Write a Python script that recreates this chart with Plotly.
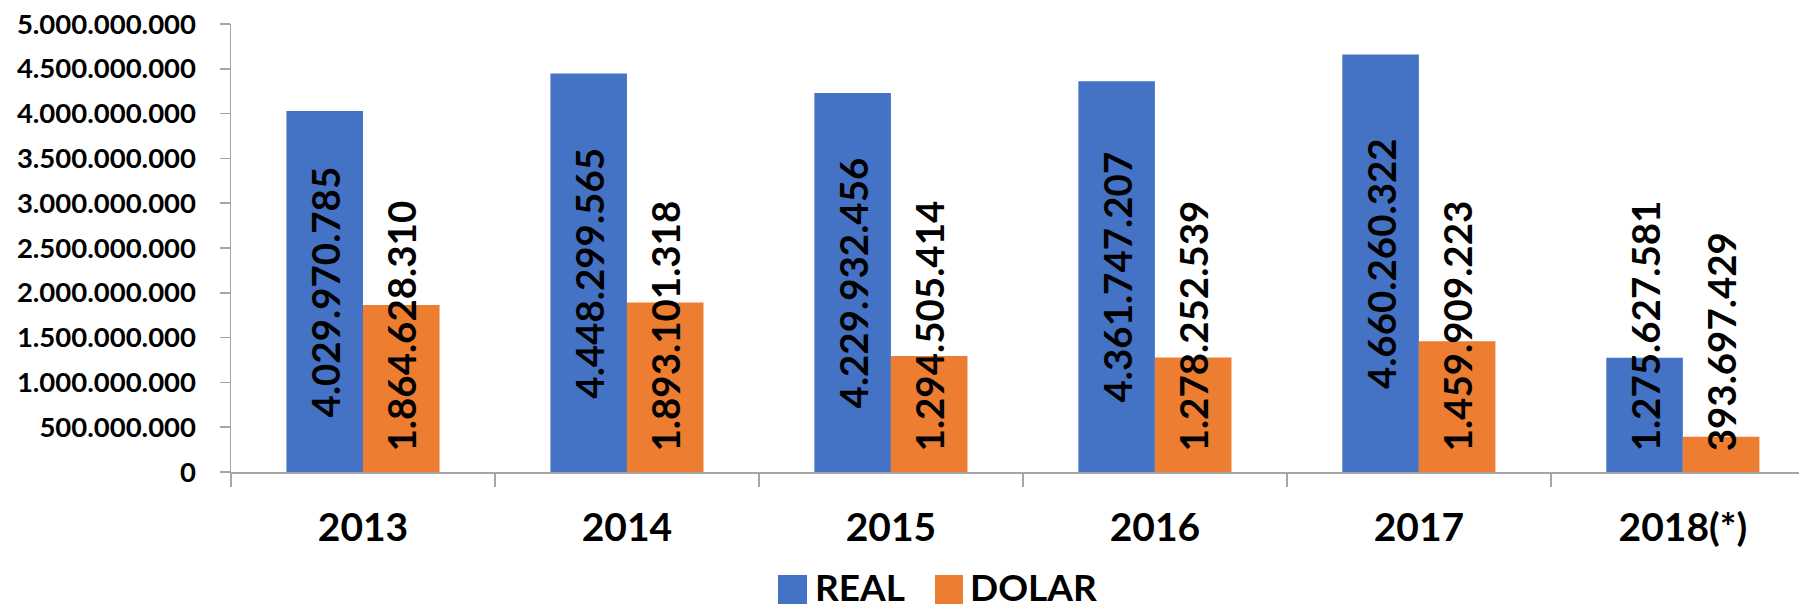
import plotly.graph_objects as go

categories = ["2013", "2014", "2015", "2016", "2017", "2018(*)"]
real_values = [4029970785, 4448299565, 4229932456, 4361747207, 4660260322, 1275627581]
dolar_values = [1864628310, 1893101318, 1294505414, 1278252539, 1459909223, 393697429]
y_tick_vals = [0, 500000000, 1000000000, 1500000000, 2000000000, 2500000000,
               3000000000, 3500000000, 4000000000, 4500000000, 5000000000]

BLUE = "#4472C4"
ORANGE = "#ED7D31"
AXIS = "#A6A6A6"
FONT = "Lato"

W, H = 1799, 612
M_L, M_R, M_T, M_B = 231, 0, 24, 140
Y_MAX = 5000000000
plot_h = H - M_T - M_B
plot_w = W - M_L - M_R
px_per_unit = plot_h / Y_MAX


def fmt(v):
    return f"{v:,}".replace(",", ".")


def px_x(px):
    return (px - M_L) / plot_w


def px_y(py):
    return (H - M_B - py) / plot_h


fig = go.Figure()
fig.add_trace(go.Bar(name="REAL", x=categories, y=real_values,
                     marker=dict(color=BLUE, line=dict(width=0))))
fig.add_trace(go.Bar(name="DOLAR", x=categories, y=dolar_values,
                     marker=dict(color=ORANGE, line=dict(width=0))))

annotations = []
label_font = dict(family=FONT, size=38.5, color="#000000", weight="bold")
bar_half = 38
min_bottom_px = 19
for series, shift in ((real_values, -bar_half), (dolar_values, bar_half)):
    for idx, v in enumerate(series):
        txt = fmt(v)
        est_len = 18.5 * sum(1 for c in txt if c.isdigit()) + 8.5 * txt.count(".")
        center_px = v * px_per_unit / 2
        if center_px - est_len / 2 < min_bottom_px:
            annotations.append(dict(x=idx, y=0, xref="x", yref="y", text=txt,
                                    textangle=-90, showarrow=False, xanchor="center",
                                    yanchor="bottom", xshift=shift, yshift=min_bottom_px,
                                    font=label_font))
        else:
            annotations.append(dict(x=idx, y=v / 2, xref="x", yref="y", text=txt,
                                    textangle=-90, showarrow=False, xanchor="center",
                                    yanchor="middle", xshift=shift,
                                    font=label_font))

# manual legend (large square swatches)
legend_font = dict(family=FONT, size=37, color="#000000", weight="bold")
shapes = [
    dict(type="rect", xref="paper", yref="paper",
         x0=px_x(778), x1=px_x(807), y0=px_y(604), y1=px_y(575),
         fillcolor=BLUE, line=dict(width=0)),
    dict(type="rect", xref="paper", yref="paper",
         x0=px_x(935), x1=px_x(963), y0=px_y(604), y1=px_y(575),
         fillcolor=ORANGE, line=dict(width=0)),
]
annotations.append(dict(text="REAL", xref="paper", yref="paper",
                        x=px_x(813), y=px_y(611), xanchor="left", yanchor="bottom",
                        showarrow=False, font=legend_font))
annotations.append(dict(text="DOLAR", xref="paper", yref="paper",
                        x=px_x(968), y=px_y(611), xanchor="left", yanchor="bottom",
                        showarrow=False, font=legend_font))

fig.update_layout(
    width=W, height=H,
    margin=dict(l=M_L, r=M_R, t=M_T, b=M_B, pad=0),
    paper_bgcolor="white", plot_bgcolor="white",
    barmode="group", bargap=0.42, bargroupgap=0,
    separators=",.",
    showlegend=False,
    annotations=annotations,
    shapes=shapes,
    font=dict(family=FONT, color="#000000"),
)
fig.update_xaxes(
    type="category", range=[-0.5, 5.44], automargin=False,
    showline=True, linecolor=AXIS, linewidth=1.5,
    ticks="outside", tickson="boundaries", ticklen=13, tickcolor=AXIS, tickwidth=1.5,
    tickfont=dict(family=FONT, size=39, color="#000000", weight="bold"),
    ticklabelstandoff=21,
    showgrid=False, zeroline=False,
)
fig.update_yaxes(
    range=[0, Y_MAX], tickvals=y_tick_vals, automargin=False,
    ticktext=[fmt(v) for v in y_tick_vals],
    showline=True, linecolor=AXIS, linewidth=1.5,
    ticks="outside", ticklen=10, tickcolor=AXIS, tickwidth=1.5,
    tickfont=dict(family=FONT, size=27.5, color="#000000", weight="bold"),
    ticklabelstandoff=18,
    showgrid=False, zeroline=False,
)

fig.write_html(
    "out.html",
    config={"displayModeBar": False, "staticPlot": True},
    post_script="document.body.style.margin='0';document.body.style.overflow='hidden';",
)
